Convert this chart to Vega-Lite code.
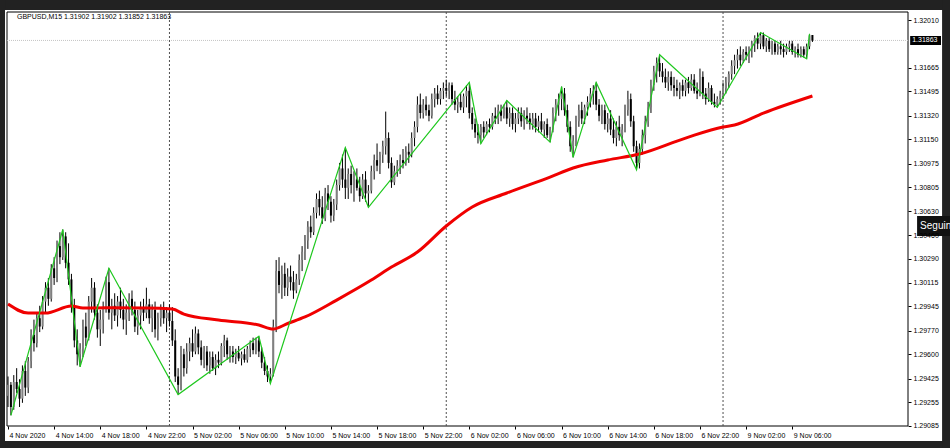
{
"$schema":"https://vega.github.io/schema/vega-lite/v6.json",
"width":901,"height":414,
"autosize":{"type":"none"},
"padding":{"left":7,"top":12,"right":42,"bottom":22},
"background":"#ffffff",
"config":{"view":{"stroke":null},"scale":{"continuousPadding":0},"axis":{"labelOverlap":false,"labelSeparation":0,"labelBound":false}},
"datasets":{
"bands":[{"x1":-6,"x2":340,"y1":1.32082,"y2":1.33},{"x1":-6,"x2":340,"y1":1.27,"y2":1.28975},{"x1":-6,"x2":-1.04,"y1":1.27,"y2":1.33},{"x1":323.97,"x2":340,"y1":1.27,"y2":1.33}],
"frame":[{"x1":-0.35,"x2":312.15,"y1":1.29083,"y2":1.32068}],
"head":[{"x":3.1,"p":1.3202,"t":"GBPUSD,M15  1.31902 1.31902 1.31852 1.31863"}],
"bid":[{"p":1.31863}],
"bidbox":[{"x1":312.9,"x2":323.6,"y1":1.3183,"y2":1.31895,"p":1.31863,"t":"1.31863"}],
"btn":[{"x1":315.3,"x2":330,"y1":1.30453,"y2":1.30597,"p":1.30525,"t":"Seguin"}],
"sep":[{"i":56},{"i":152},{"i":248}],
"ma":[{"i":0,"m":1.29962},{"i":7,"m":1.29897},{"i":13,"m":1.29897},{"i":22,"m":1.29948},{"i":26,"m":1.29934},{"i":35,"m":1.29935},{"i":48,"m":1.29934},{"i":57,"m":1.29926},{"i":61,"m":1.2989},{"i":73,"m":1.29847},{"i":87,"m":1.29811},{"i":92,"m":1.29782},{"i":97,"m":1.29822},{"i":103,"m":1.29869},{"i":114,"m":1.29991},{"i":126,"m":1.30135},{"i":133,"m":1.30229},{"i":142,"m":1.30337},{"i":152,"m":1.30525},{"i":161,"m":1.30662},{"i":173,"m":1.30763},{"i":188,"m":1.30878},{"i":196,"m":1.30943},{"i":208,"m":1.31001},{"i":219,"m":1.31044},{"i":235,"m":1.31159},{"i":248,"m":1.31239},{"i":252,"m":1.31253},{"i":262,"m":1.31339},{"i":279,"m":1.31462}],
"zz":[{"i":1,"p":1.2916},{"i":19,"p":1.305},{"i":25,"p":1.2951},{"i":35,"p":1.3022},{"i":59,"p":1.2931},{"i":87,"p":1.2973},{"i":91,"p":1.2939},{"i":117,"p":1.3109},{"i":125,"p":1.3066},{"i":160,"p":1.3156},{"i":164,"p":1.3112},{"i":173,"p":1.3143},{"i":188,"p":1.3113},{"i":192,"p":1.3153},{"i":196,"p":1.3102},{"i":204,"p":1.3156},{"i":218,"p":1.3093},{"i":226,"p":1.3176},{"i":246,"p":1.3138},{"i":261,"p":1.3192},{"i":277,"p":1.3173},{"i":278,"p":1.3191}],
"candles":[
{"i":0,"o":1.2930,"h":1.2944,"l":1.2922,"c":1.2938},
{"i":1,"o":1.2938,"h":1.2940,"l":1.2916,"c":1.2922},
{"i":2,"o":1.2922,"h":1.2945,"l":1.2920,"c":1.2940},
{"i":3,"o":1.2940,"h":1.2950,"l":1.2932,"c":1.2935},
{"i":4,"o":1.2935,"h":1.2942,"l":1.2922,"c":1.2928},
{"i":5,"o":1.2928,"h":1.2952,"l":1.2925,"c":1.2948},
{"i":6,"o":1.2948,"h":1.2955,"l":1.2930,"c":1.2936},
{"i":7,"o":1.2936,"h":1.2958,"l":1.2932,"c":1.2955},
{"i":8,"o":1.2955,"h":1.2978,"l":1.2950,"c":1.2974},
{"i":9,"o":1.2974,"h":1.2985,"l":1.2962,"c":1.2968},
{"i":10,"o":1.2968,"h":1.2990,"l":1.2965,"c":1.2986},
{"i":11,"o":1.2986,"h":1.2995,"l":1.2976,"c":1.2980},
{"i":12,"o":1.2980,"h":1.3002,"l":1.2978,"c":1.2998},
{"i":13,"o":1.2998,"h":1.3012,"l":1.2990,"c":1.3008},
{"i":14,"o":1.3008,"h":1.3015,"l":1.2995,"c":1.3000},
{"i":15,"o":1.3000,"h":1.3025,"l":1.2998,"c":1.3022},
{"i":16,"o":1.3022,"h":1.3030,"l":1.3010,"c":1.3015},
{"i":17,"o":1.3015,"h":1.3042,"l":1.3012,"c":1.3038},
{"i":18,"o":1.3038,"h":1.3048,"l":1.3025,"c":1.3030},
{"i":19,"o":1.3030,"h":1.3050,"l":1.3028,"c":1.3045},
{"i":20,"o":1.3045,"h":1.3048,"l":1.3022,"c":1.3026},
{"i":21,"o":1.3026,"h":1.3040,"l":1.3010,"c":1.3014},
{"i":22,"o":1.3014,"h":1.3018,"l":1.2990,"c":1.2995},
{"i":23,"o":1.2995,"h":1.3000,"l":1.2965,"c":1.2970},
{"i":24,"o":1.2970,"h":1.2978,"l":1.2952,"c":1.2960},
{"i":25,"o":1.2960,"h":1.2968,"l":1.2951,"c":1.2964},
{"i":26,"o":1.2964,"h":1.2985,"l":1.2958,"c":1.2980},
{"i":27,"o":1.2980,"h":1.2990,"l":1.2966,"c":1.2972},
{"i":28,"o":1.2972,"h":1.3002,"l":1.2970,"c":1.2998},
{"i":29,"o":1.2998,"h":1.3015,"l":1.2990,"c":1.3008},
{"i":30,"o":1.3008,"h":1.3012,"l":1.2985,"c":1.2990},
{"i":31,"o":1.2990,"h":1.2996,"l":1.2972,"c":1.2978},
{"i":32,"o":1.2978,"h":1.2992,"l":1.2966,"c":1.2985},
{"i":33,"o":1.2985,"h":1.2998,"l":1.2975,"c":1.2994},
{"i":34,"o":1.2994,"h":1.3016,"l":1.2990,"c":1.3012},
{"i":35,"o":1.3012,"h":1.3022,"l":1.2985,"c":1.2990},
{"i":36,"o":1.2990,"h":1.3000,"l":1.2978,"c":1.2995},
{"i":37,"o":1.2995,"h":1.3004,"l":1.2984,"c":1.2988},
{"i":38,"o":1.2988,"h":1.3002,"l":1.2980,"c":1.2998},
{"i":39,"o":1.2998,"h":1.3008,"l":1.2986,"c":1.2992},
{"i":40,"o":1.2992,"h":1.3000,"l":1.2978,"c":1.2985},
{"i":41,"o":1.2985,"h":1.2996,"l":1.2974,"c":1.2990},
{"i":42,"o":1.2990,"h":1.3004,"l":1.2984,"c":1.3000},
{"i":43,"o":1.3000,"h":1.3006,"l":1.2988,"c":1.2992},
{"i":44,"o":1.2992,"h":1.2998,"l":1.2976,"c":1.2980},
{"i":45,"o":1.2980,"h":1.2992,"l":1.2974,"c":1.2988},
{"i":46,"o":1.2988,"h":1.2998,"l":1.2978,"c":1.2994},
{"i":47,"o":1.2994,"h":1.3000,"l":1.2984,"c":1.2990},
{"i":48,"o":1.2990,"h":1.3008,"l":1.2986,"c":1.2996},
{"i":49,"o":1.2996,"h":1.3000,"l":1.2982,"c":1.2986},
{"i":50,"o":1.2986,"h":1.2996,"l":1.2976,"c":1.2992},
{"i":51,"o":1.2992,"h":1.2998,"l":1.2972,"c":1.2978},
{"i":52,"o":1.2978,"h":1.2990,"l":1.2970,"c":1.2986},
{"i":53,"o":1.2986,"h":1.2996,"l":1.2980,"c":1.2992},
{"i":54,"o":1.2992,"h":1.2998,"l":1.2982,"c":1.2986},
{"i":55,"o":1.2986,"h":1.2994,"l":1.2976,"c":1.2990},
{"i":56,"o":1.2990,"h":1.2996,"l":1.2980,"c":1.2984},
{"i":57,"o":1.2984,"h":1.2994,"l":1.2966,"c":1.2970},
{"i":58,"o":1.2970,"h":1.2978,"l":1.2940,"c":1.2944},
{"i":59,"o":1.2944,"h":1.2950,"l":1.2931,"c":1.2938},
{"i":60,"o":1.2938,"h":1.2966,"l":1.2934,"c":1.2960},
{"i":61,"o":1.2960,"h":1.2964,"l":1.2944,"c":1.2950},
{"i":62,"o":1.2950,"h":1.2968,"l":1.2946,"c":1.2962},
{"i":63,"o":1.2962,"h":1.2972,"l":1.2955,"c":1.2968},
{"i":64,"o":1.2968,"h":1.2978,"l":1.2958,"c":1.2962},
{"i":65,"o":1.2962,"h":1.2980,"l":1.2960,"c":1.2975},
{"i":66,"o":1.2975,"h":1.2978,"l":1.2960,"c":1.2965},
{"i":67,"o":1.2965,"h":1.2970,"l":1.2952,"c":1.2956},
{"i":68,"o":1.2956,"h":1.2966,"l":1.2950,"c":1.2962},
{"i":69,"o":1.2962,"h":1.2966,"l":1.2948,"c":1.2952},
{"i":70,"o":1.2952,"h":1.2962,"l":1.2946,"c":1.2958},
{"i":71,"o":1.2958,"h":1.2962,"l":1.2948,"c":1.2950},
{"i":72,"o":1.2950,"h":1.2960,"l":1.2945,"c":1.2956},
{"i":73,"o":1.2956,"h":1.2962,"l":1.2950,"c":1.2954},
{"i":74,"o":1.2954,"h":1.2968,"l":1.2952,"c":1.2966},
{"i":75,"o":1.2966,"h":1.2974,"l":1.2958,"c":1.2970},
{"i":76,"o":1.2970,"h":1.2972,"l":1.2956,"c":1.2960},
{"i":77,"o":1.2960,"h":1.2966,"l":1.2954,"c":1.2962},
{"i":78,"o":1.2962,"h":1.2966,"l":1.2954,"c":1.2958},
{"i":79,"o":1.2958,"h":1.2964,"l":1.2953,"c":1.2961},
{"i":80,"o":1.2961,"h":1.2966,"l":1.2955,"c":1.2957},
{"i":81,"o":1.2957,"h":1.2962,"l":1.2952,"c":1.2960},
{"i":82,"o":1.2960,"h":1.2964,"l":1.2954,"c":1.2956},
{"i":83,"o":1.2956,"h":1.2966,"l":1.2954,"c":1.2964},
{"i":84,"o":1.2964,"h":1.2970,"l":1.2958,"c":1.2968},
{"i":85,"o":1.2968,"h":1.2972,"l":1.2960,"c":1.2963},
{"i":86,"o":1.2963,"h":1.2972,"l":1.2960,"c":1.2970},
{"i":87,"o":1.2970,"h":1.2973,"l":1.2958,"c":1.2962},
{"i":88,"o":1.2962,"h":1.2965,"l":1.2950,"c":1.2954},
{"i":89,"o":1.2954,"h":1.2958,"l":1.2945,"c":1.2948},
{"i":90,"o":1.2948,"h":1.2952,"l":1.2940,"c":1.2944},
{"i":91,"o":1.2944,"h":1.2950,"l":1.2939,"c":1.2946},
{"i":92,"o":1.2946,"h":1.2985,"l":1.2944,"c":1.2980},
{"i":93,"o":1.2980,"h":1.3028,"l":1.2976,"c":1.3020},
{"i":94,"o":1.3020,"h":1.3030,"l":1.3004,"c":1.3010},
{"i":95,"o":1.3010,"h":1.3024,"l":1.3000,"c":1.3018},
{"i":96,"o":1.3018,"h":1.3026,"l":1.3002,"c":1.3008},
{"i":97,"o":1.3008,"h":1.3022,"l":1.3002,"c":1.3016},
{"i":98,"o":1.3016,"h":1.3024,"l":1.3006,"c":1.3012},
{"i":99,"o":1.3012,"h":1.3020,"l":1.3000,"c":1.3006},
{"i":100,"o":1.3006,"h":1.3018,"l":1.3004,"c":1.3014},
{"i":101,"o":1.3014,"h":1.3032,"l":1.3010,"c":1.3028},
{"i":102,"o":1.3028,"h":1.3038,"l":1.3020,"c":1.3034},
{"i":103,"o":1.3034,"h":1.3046,"l":1.3028,"c":1.3042},
{"i":104,"o":1.3042,"h":1.3056,"l":1.3036,"c":1.3052},
{"i":105,"o":1.3052,"h":1.3060,"l":1.3044,"c":1.3048},
{"i":106,"o":1.3048,"h":1.3066,"l":1.3046,"c":1.3062},
{"i":107,"o":1.3062,"h":1.3076,"l":1.3058,"c":1.3072},
{"i":108,"o":1.3072,"h":1.3078,"l":1.3060,"c":1.3066},
{"i":109,"o":1.3066,"h":1.3074,"l":1.3054,"c":1.3058},
{"i":110,"o":1.3058,"h":1.3080,"l":1.3056,"c":1.3076},
{"i":111,"o":1.3076,"h":1.3082,"l":1.3064,"c":1.3070},
{"i":112,"o":1.3070,"h":1.3074,"l":1.3055,"c":1.3060},
{"i":113,"o":1.3060,"h":1.3072,"l":1.3056,"c":1.3068},
{"i":114,"o":1.3068,"h":1.3086,"l":1.3064,"c":1.3082},
{"i":115,"o":1.3082,"h":1.3098,"l":1.3078,"c":1.3094},
{"i":116,"o":1.3094,"h":1.3104,"l":1.3080,"c":1.3086},
{"i":117,"o":1.3086,"h":1.3109,"l":1.3072,"c":1.3080},
{"i":118,"o":1.3080,"h":1.3094,"l":1.3072,"c":1.3090},
{"i":119,"o":1.3090,"h":1.3096,"l":1.3076,"c":1.3082},
{"i":120,"o":1.3082,"h":1.3092,"l":1.3070,"c":1.3086},
{"i":121,"o":1.3086,"h":1.3094,"l":1.3078,"c":1.3080},
{"i":122,"o":1.3080,"h":1.3088,"l":1.3070,"c":1.3074},
{"i":123,"o":1.3074,"h":1.3090,"l":1.3072,"c":1.3086},
{"i":124,"o":1.3086,"h":1.3092,"l":1.3070,"c":1.3076},
{"i":125,"o":1.3076,"h":1.3082,"l":1.3066,"c":1.3078},
{"i":126,"o":1.3078,"h":1.3096,"l":1.3076,"c":1.3092},
{"i":127,"o":1.3092,"h":1.3104,"l":1.3086,"c":1.3100},
{"i":128,"o":1.3100,"h":1.3112,"l":1.3092,"c":1.3096},
{"i":129,"o":1.3096,"h":1.3106,"l":1.3090,"c":1.3104},
{"i":130,"o":1.3104,"h":1.3114,"l":1.3098,"c":1.3110},
{"i":131,"o":1.3110,"h":1.3135,"l":1.3104,"c":1.3116},
{"i":132,"o":1.3116,"h":1.3120,"l":1.3094,"c":1.3098},
{"i":133,"o":1.3098,"h":1.3102,"l":1.3080,"c":1.3084},
{"i":134,"o":1.3084,"h":1.3096,"l":1.3082,"c":1.3092},
{"i":135,"o":1.3092,"h":1.3100,"l":1.3088,"c":1.3096},
{"i":136,"o":1.3096,"h":1.3104,"l":1.3090,"c":1.3100},
{"i":137,"o":1.3100,"h":1.3108,"l":1.3094,"c":1.3098},
{"i":138,"o":1.3098,"h":1.3110,"l":1.3096,"c":1.3106},
{"i":139,"o":1.3106,"h":1.3112,"l":1.3098,"c":1.3104},
{"i":140,"o":1.3104,"h":1.3120,"l":1.3102,"c":1.3116},
{"i":141,"o":1.3116,"h":1.3128,"l":1.3110,"c":1.3124},
{"i":142,"o":1.3124,"h":1.3146,"l":1.3120,"c":1.3140},
{"i":143,"o":1.3140,"h":1.3148,"l":1.3130,"c":1.3134},
{"i":144,"o":1.3134,"h":1.3144,"l":1.3130,"c":1.3140},
{"i":145,"o":1.3140,"h":1.3146,"l":1.3132,"c":1.3136},
{"i":146,"o":1.3136,"h":1.3140,"l":1.3128,"c":1.3132},
{"i":147,"o":1.3132,"h":1.3148,"l":1.3130,"c":1.3144},
{"i":148,"o":1.3144,"h":1.3152,"l":1.3138,"c":1.3148},
{"i":149,"o":1.3148,"h":1.3154,"l":1.3140,"c":1.3144},
{"i":150,"o":1.3144,"h":1.3152,"l":1.3140,"c":1.3150},
{"i":151,"o":1.3150,"h":1.3156,"l":1.3144,"c":1.3152},
{"i":152,"o":1.3152,"h":1.3158,"l":1.3146,"c":1.3150},
{"i":153,"o":1.3150,"h":1.3156,"l":1.3144,"c":1.3154},
{"i":154,"o":1.3154,"h":1.3156,"l":1.3140,"c":1.3144},
{"i":155,"o":1.3144,"h":1.3150,"l":1.3136,"c":1.3140},
{"i":156,"o":1.3140,"h":1.3146,"l":1.3134,"c":1.3142},
{"i":157,"o":1.3142,"h":1.3148,"l":1.3136,"c":1.3138},
{"i":158,"o":1.3138,"h":1.3148,"l":1.3134,"c":1.3146},
{"i":159,"o":1.3146,"h":1.3154,"l":1.3138,"c":1.3150},
{"i":160,"o":1.3150,"h":1.3156,"l":1.3130,"c":1.3134},
{"i":161,"o":1.3134,"h":1.3138,"l":1.3122,"c":1.3126},
{"i":162,"o":1.3126,"h":1.3130,"l":1.3116,"c":1.3120},
{"i":163,"o":1.3120,"h":1.3126,"l":1.3112,"c":1.3118},
{"i":164,"o":1.3118,"h":1.3126,"l":1.3112,"c":1.3124},
{"i":165,"o":1.3124,"h":1.3128,"l":1.3116,"c":1.3120},
{"i":166,"o":1.3120,"h":1.3128,"l":1.3118,"c":1.3126},
{"i":167,"o":1.3126,"h":1.3130,"l":1.3120,"c":1.3124},
{"i":168,"o":1.3124,"h":1.3134,"l":1.3122,"c":1.3132},
{"i":169,"o":1.3132,"h":1.3138,"l":1.3126,"c":1.3130},
{"i":170,"o":1.3130,"h":1.3140,"l":1.3126,"c":1.3136},
{"i":171,"o":1.3136,"h":1.3140,"l":1.3128,"c":1.3132},
{"i":172,"o":1.3132,"h":1.3140,"l":1.3130,"c":1.3138},
{"i":173,"o":1.3138,"h":1.3143,"l":1.3126,"c":1.3130},
{"i":174,"o":1.3130,"h":1.3138,"l":1.3124,"c":1.3134},
{"i":175,"o":1.3134,"h":1.3138,"l":1.3122,"c":1.3126},
{"i":176,"o":1.3126,"h":1.3134,"l":1.3120,"c":1.3130},
{"i":177,"o":1.3130,"h":1.3138,"l":1.3126,"c":1.3134},
{"i":178,"o":1.3134,"h":1.3138,"l":1.3124,"c":1.3128},
{"i":179,"o":1.3128,"h":1.3136,"l":1.3122,"c":1.3132},
{"i":180,"o":1.3132,"h":1.3138,"l":1.3126,"c":1.3130},
{"i":181,"o":1.3130,"h":1.3134,"l":1.3122,"c":1.3126},
{"i":182,"o":1.3126,"h":1.3134,"l":1.3122,"c":1.3130},
{"i":183,"o":1.3130,"h":1.3134,"l":1.3120,"c":1.3124},
{"i":184,"o":1.3124,"h":1.3132,"l":1.3120,"c":1.3128},
{"i":185,"o":1.3128,"h":1.3134,"l":1.3120,"c":1.3122},
{"i":186,"o":1.3122,"h":1.3128,"l":1.3116,"c":1.3126},
{"i":187,"o":1.3126,"h":1.3130,"l":1.3116,"c":1.3118},
{"i":188,"o":1.3118,"h":1.3124,"l":1.3113,"c":1.3122},
{"i":189,"o":1.3122,"h":1.3138,"l":1.3120,"c":1.3134},
{"i":190,"o":1.3134,"h":1.3144,"l":1.3128,"c":1.3140},
{"i":191,"o":1.3140,"h":1.3148,"l":1.3132,"c":1.3144},
{"i":192,"o":1.3144,"h":1.3153,"l":1.3136,"c":1.3148},
{"i":193,"o":1.3148,"h":1.3152,"l":1.3132,"c":1.3136},
{"i":194,"o":1.3136,"h":1.3140,"l":1.3120,"c":1.3124},
{"i":195,"o":1.3124,"h":1.3128,"l":1.3106,"c":1.3110},
{"i":196,"o":1.3110,"h":1.3118,"l":1.3102,"c":1.3114},
{"i":197,"o":1.3114,"h":1.3132,"l":1.3110,"c":1.3128},
{"i":198,"o":1.3128,"h":1.3140,"l":1.3124,"c":1.3136},
{"i":199,"o":1.3136,"h":1.3142,"l":1.3126,"c":1.3130},
{"i":200,"o":1.3130,"h":1.3140,"l":1.3126,"c":1.3138},
{"i":201,"o":1.3138,"h":1.3146,"l":1.3132,"c":1.3142},
{"i":202,"o":1.3142,"h":1.3152,"l":1.3138,"c":1.3148},
{"i":203,"o":1.3148,"h":1.3154,"l":1.3140,"c":1.3150},
{"i":204,"o":1.3150,"h":1.3156,"l":1.3136,"c":1.3140},
{"i":205,"o":1.3140,"h":1.3144,"l":1.3128,"c":1.3132},
{"i":206,"o":1.3132,"h":1.3140,"l":1.3126,"c":1.3136},
{"i":207,"o":1.3136,"h":1.3140,"l":1.3122,"c":1.3126},
{"i":208,"o":1.3126,"h":1.3134,"l":1.3120,"c":1.3130},
{"i":209,"o":1.3130,"h":1.3136,"l":1.3118,"c":1.3122},
{"i":210,"o":1.3122,"h":1.3130,"l":1.3112,"c":1.3116},
{"i":211,"o":1.3116,"h":1.3128,"l":1.3110,"c":1.3124},
{"i":212,"o":1.3124,"h":1.3132,"l":1.3114,"c":1.3118},
{"i":213,"o":1.3118,"h":1.3126,"l":1.3110,"c":1.3122},
{"i":214,"o":1.3122,"h":1.3140,"l":1.3120,"c":1.3136},
{"i":215,"o":1.3136,"h":1.3150,"l":1.3132,"c":1.3144},
{"i":216,"o":1.3144,"h":1.3148,"l":1.3124,"c":1.3128},
{"i":217,"o":1.3128,"h":1.3132,"l":1.3106,"c":1.3110},
{"i":218,"o":1.3110,"h":1.3114,"l":1.3093,"c":1.3098},
{"i":219,"o":1.3098,"h":1.3112,"l":1.3094,"c":1.3108},
{"i":220,"o":1.3108,"h":1.3122,"l":1.3104,"c":1.3118},
{"i":221,"o":1.3118,"h":1.3132,"l":1.3112,"c":1.3128},
{"i":222,"o":1.3128,"h":1.3142,"l":1.3124,"c":1.3138},
{"i":223,"o":1.3138,"h":1.3158,"l":1.3134,"c":1.3154},
{"i":224,"o":1.3154,"h":1.3168,"l":1.3150,"c":1.3164},
{"i":225,"o":1.3164,"h":1.3174,"l":1.3156,"c":1.3170},
{"i":226,"o":1.3170,"h":1.3176,"l":1.3160,"c":1.3164},
{"i":227,"o":1.3164,"h":1.3170,"l":1.3156,"c":1.3160},
{"i":228,"o":1.3160,"h":1.3166,"l":1.3152,"c":1.3156},
{"i":229,"o":1.3156,"h":1.3164,"l":1.3150,"c":1.3160},
{"i":230,"o":1.3160,"h":1.3164,"l":1.3150,"c":1.3154},
{"i":231,"o":1.3154,"h":1.3160,"l":1.3146,"c":1.3152},
{"i":232,"o":1.3152,"h":1.3158,"l":1.3146,"c":1.3150},
{"i":233,"o":1.3150,"h":1.3156,"l":1.3144,"c":1.3154},
{"i":234,"o":1.3154,"h":1.3158,"l":1.3146,"c":1.3150},
{"i":235,"o":1.3150,"h":1.3158,"l":1.3146,"c":1.3156},
{"i":236,"o":1.3156,"h":1.3160,"l":1.3148,"c":1.3152},
{"i":237,"o":1.3152,"h":1.3162,"l":1.3150,"c":1.3158},
{"i":238,"o":1.3158,"h":1.3162,"l":1.3148,"c":1.3150},
{"i":239,"o":1.3150,"h":1.3156,"l":1.3144,"c":1.3148},
{"i":240,"o":1.3148,"h":1.3166,"l":1.3146,"c":1.3160},
{"i":241,"o":1.3160,"h":1.3164,"l":1.3144,"c":1.3148},
{"i":242,"o":1.3148,"h":1.3152,"l":1.3140,"c":1.3144},
{"i":243,"o":1.3144,"h":1.3156,"l":1.3142,"c":1.3152},
{"i":244,"o":1.3152,"h":1.3154,"l":1.3140,"c":1.3142},
{"i":245,"o":1.3142,"h":1.3148,"l":1.3138,"c":1.3140},
{"i":246,"o":1.3140,"h":1.3146,"l":1.3138,"c":1.3144},
{"i":247,"o":1.3144,"h":1.3150,"l":1.3140,"c":1.3148},
{"i":248,"o":1.3148,"h":1.3156,"l":1.3144,"c":1.3152},
{"i":249,"o":1.3152,"h":1.3160,"l":1.3148,"c":1.3156},
{"i":250,"o":1.3156,"h":1.3164,"l":1.3152,"c":1.3162},
{"i":251,"o":1.3162,"h":1.3172,"l":1.3158,"c":1.3168},
{"i":252,"o":1.3168,"h":1.3176,"l":1.3162,"c":1.3172},
{"i":253,"o":1.3172,"h":1.3180,"l":1.3166,"c":1.3176},
{"i":254,"o":1.3176,"h":1.3182,"l":1.3168,"c":1.3172},
{"i":255,"o":1.3172,"h":1.3180,"l":1.3170,"c":1.3178},
{"i":256,"o":1.3178,"h":1.3182,"l":1.3172,"c":1.3176},
{"i":257,"o":1.3176,"h":1.3182,"l":1.3170,"c":1.3180},
{"i":258,"o":1.3180,"h":1.3186,"l":1.3174,"c":1.3184},
{"i":259,"o":1.3184,"h":1.3190,"l":1.3178,"c":1.3188},
{"i":260,"o":1.3188,"h":1.3192,"l":1.3180,"c":1.3184},
{"i":261,"o":1.3184,"h":1.3192,"l":1.3180,"c":1.3190},
{"i":262,"o":1.3190,"h":1.3192,"l":1.3180,"c":1.3182},
{"i":263,"o":1.3182,"h":1.3188,"l":1.3178,"c":1.3186},
{"i":264,"o":1.3186,"h":1.3188,"l":1.3178,"c":1.3180},
{"i":265,"o":1.3180,"h":1.3186,"l":1.3176,"c":1.3184},
{"i":266,"o":1.3184,"h":1.3186,"l":1.3176,"c":1.3178},
{"i":267,"o":1.3178,"h":1.3184,"l":1.3176,"c":1.3182},
{"i":268,"o":1.3182,"h":1.3186,"l":1.3176,"c":1.3180},
{"i":269,"o":1.3180,"h":1.3184,"l":1.3174,"c":1.3178},
{"i":270,"o":1.3178,"h":1.3184,"l":1.3176,"c":1.3182},
{"i":271,"o":1.3182,"h":1.3186,"l":1.3178,"c":1.3184},
{"i":272,"o":1.3184,"h":1.3186,"l":1.3176,"c":1.3178},
{"i":273,"o":1.3178,"h":1.3182,"l":1.3174,"c":1.3180},
{"i":274,"o":1.3180,"h":1.3184,"l":1.3174,"c":1.3176},
{"i":275,"o":1.3176,"h":1.3182,"l":1.3174,"c":1.3180},
{"i":276,"o":1.3180,"h":1.3182,"l":1.3174,"c":1.3176},
{"i":277,"o":1.3176,"h":1.3184,"l":1.3173,"c":1.3182},
{"i":278,"o":1.3182,"h":1.3191,"l":1.3180,"c":1.3190},
{"i":279,"o":1.31902,"h":1.31902,"l":1.31852,"c":1.31863}
]},
"layer":[
{"data":{"name":"frame"},"mark":{"type":"rect","fillOpacity":0,"stroke":"#000000","strokeWidth":1,"clip":false},
 "encoding":{
  "x":{"field":"x1","type":"quantitative","title":null,"scale":{"domain":[-0.35,312.15],"nice":false,"zero":false,"padding":0},
   "axis":{"title":null,"orient":"bottom","zindex":1,"domain":false,"grid":false,"tickCount":50,"values":[0,16,32,48,64,80,96,112,128,144,160,176,192,208,224,240,256,272],
    "labelExpr":"['4 Nov 2020','4 Nov 14:00','4 Nov 18:00','4 Nov 22:00','5 Nov 02:00','5 Nov 06:00','5 Nov 10:00','5 Nov 14:00','5 Nov 18:00','5 Nov 22:00','6 Nov 02:00','6 Nov 06:00','6 Nov 10:00','6 Nov 14:00','6 Nov 18:00','6 Nov 22:00','9 Nov 02:00','9 Nov 06:00'][round(datum.value/16)]",
    "labelAlign":"left","labelBaseline":"top","labelPadding":2,"labelOffset":1,"labelFlush":false,"labelOverlap":false,"tickSize":3,"tickColor":"#000000","labelColor":"#000000","labelFont":"Liberation Sans","labelFontSize":7}},
  "x2":{"field":"x2"},
  "y":{"field":"y1","type":"quantitative","title":null,"scale":{"domain":[1.29083,1.32068],"nice":false,"zero":false,"padding":0},
   "axis":{"title":null,"orient":"right","zindex":1,"domain":false,"grid":false,"tickCount":50,"values":[1.3201,1.31665,1.31495,1.3132,1.3115,1.30975,1.30805,1.3063,1.3046,1.3029,1.30115,1.29945,1.2977,1.296,1.29425,1.29255,1.29085],
    "format":".5f","labelPadding":2,"labelFlush":false,"labelOverlap":false,"tickSize":3,"tickColor":"#000000","labelColor":"#000000","labelFont":"Liberation Sans","labelFontSize":7}},
  "y2":{"field":"y2"}}},
{"data":{"name":"bands"},"mark":{"type":"rect","color":"#222222","clip":false},
 "encoding":{"x":{"field":"x1","type":"quantitative","title":null},"x2":{"field":"x2"},"y":{"field":"y1","type":"quantitative","title":null},"y2":{"field":"y2"}}},
{"data":{"name":"bid"},"mark":{"type":"rule","color":"#c4c4c4","strokeDash":[1,1],"strokeWidth":1},
 "encoding":{"y":{"field":"p","type":"quantitative","title":null}}},
{"data":{"name":"sep"},"mark":{"type":"rule","color":"#505050","strokeDash":[2,2],"strokeWidth":1},
 "encoding":{"x":{"field":"i","type":"quantitative","title":null}}},
{"data":{"name":"candles"},"mark":{"type":"rule","color":"#000000","strokeWidth":1},
 "encoding":{"x":{"field":"i","type":"quantitative","title":null},"y":{"field":"l","type":"quantitative","title":null},"y2":{"field":"h"}}},
{"data":{"name":"candles"},"mark":{"type":"bar","width":2},
 "encoding":{"x":{"field":"i","type":"quantitative","title":null},"y":{"field":"o","type":"quantitative","title":null},"y2":{"field":"c"},
  "color":{"condition":{"test":"datum.c >= datum.o","value":"#808080"},"value":"#000000"}}},
{"data":{"name":"ma"},"mark":{"type":"line","color":"#f00000","strokeWidth":3,"interpolate":"monotone"},
 "encoding":{"x":{"field":"i","type":"quantitative","title":null},"y":{"field":"m","type":"quantitative","title":null}}},
{"data":{"name":"zz"},"mark":{"type":"line","color":"#1ec81e","strokeWidth":1.2},
 "encoding":{"x":{"field":"i","type":"quantitative","title":null},"y":{"field":"p","type":"quantitative","title":null}}},
{"data":{"name":"head"},"mark":{"type":"text","color":"#000000","align":"left","baseline":"alphabetic","font":"Liberation Sans","fontSize":7,"clip":false},
 "encoding":{"x":{"field":"x","type":"quantitative","title":null},"y":{"field":"p","type":"quantitative","title":null},"text":{"field":"t"}}},
{"data":{"name":"bidbox"},"mark":{"type":"rect","color":"#000000","clip":false},
 "encoding":{"x":{"field":"x1","type":"quantitative","title":null},"x2":{"field":"x2"},"y":{"field":"y1","type":"quantitative","title":null},"y2":{"field":"y2"}}},
{"data":{"name":"bidbox"},"mark":{"type":"text","color":"#ffffff","align":"left","baseline":"middle","dx":2,"font":"Liberation Sans","fontSize":7,"clip":false},
 "encoding":{"x":{"field":"x1","type":"quantitative","title":null},"y":{"field":"p","type":"quantitative","title":null},"text":{"field":"t"}}},
{"data":{"name":"btn"},"mark":{"type":"rect","color":"#111111","clip":false},
 "encoding":{"x":{"field":"x1","type":"quantitative","title":null},"x2":{"field":"x2"},"y":{"field":"y1","type":"quantitative","title":null},"y2":{"field":"y2"}}},
{"data":{"name":"btn"},"mark":{"type":"text","color":"#ffffff","align":"left","baseline":"middle","dx":3,"font":"Liberation Sans","fontSize":10,"clip":false},
 "encoding":{"x":{"field":"x1","type":"quantitative","title":null},"y":{"field":"p","type":"quantitative","title":null},"text":{"field":"t"}}}
]
}
